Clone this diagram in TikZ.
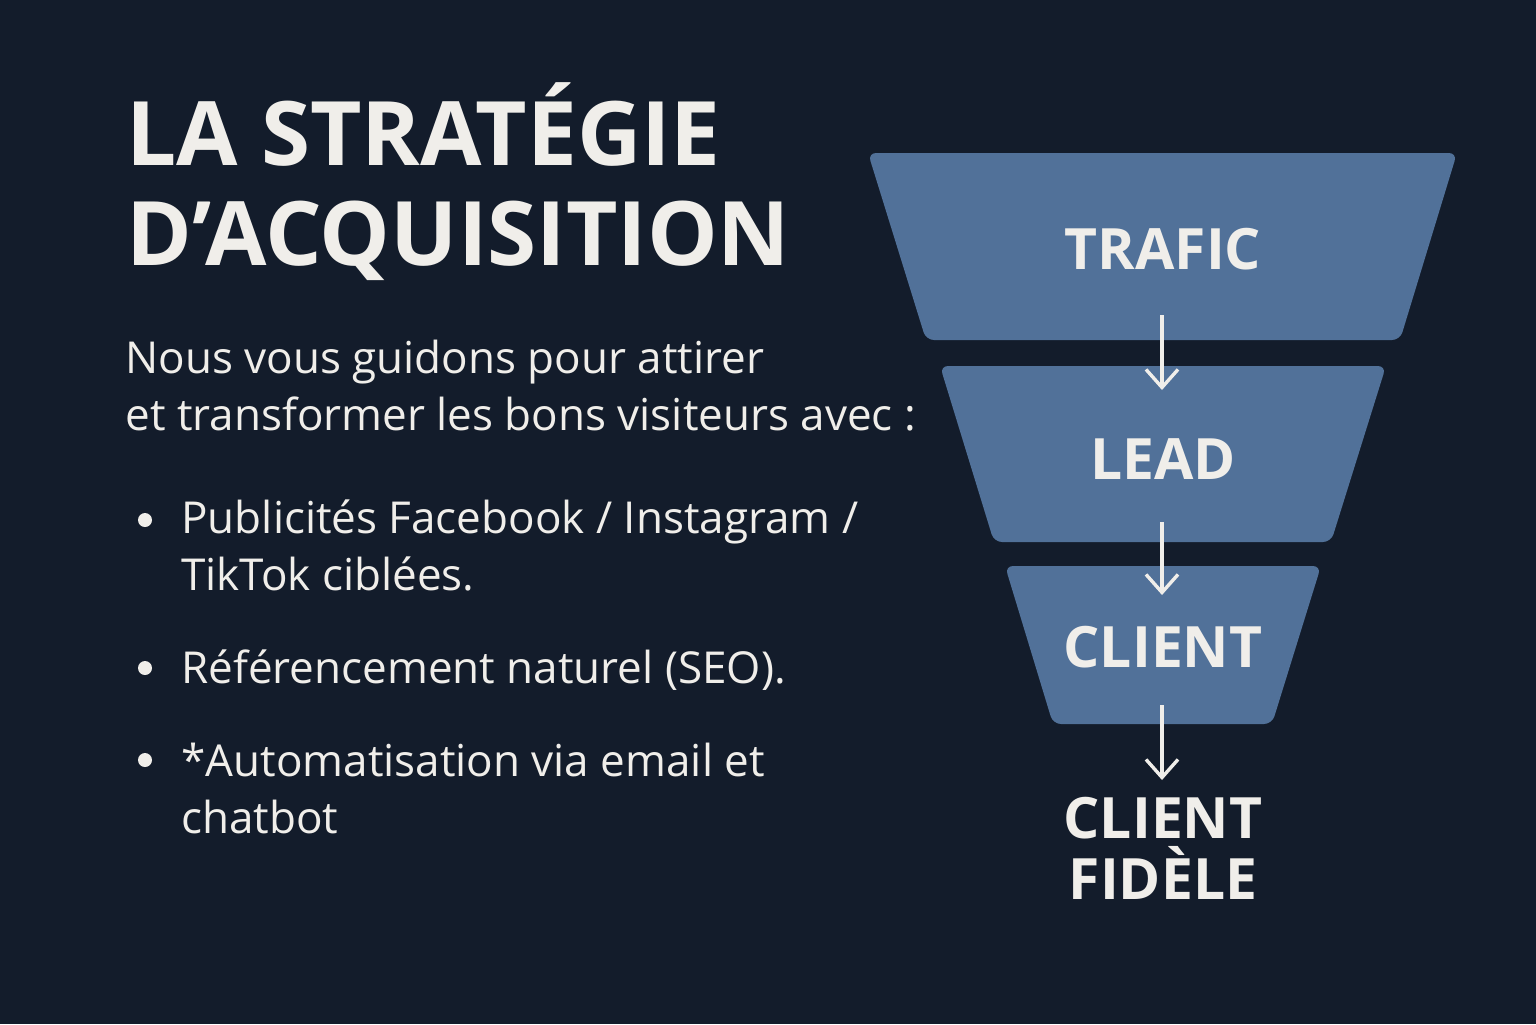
\documentclass[tikz,border=0pt]{standalone}
\usepackage{fontspec}
\setmainfont{Open Sans}
\usetikzlibrary{arrows.meta}
\definecolor{bgdark}{RGB}{19,28,43}
\definecolor{funnelblue}{RGB}{81,113,153}
\definecolor{chalk}{RGB}{240,238,234}
\tikzset{
  title/.style={anchor=base west,inner sep=0pt,text=chalk,font=\bfseries\fontsize{44.5}{50}\selectfont},
  body/.style={anchor=base west,inner sep=0pt,text=chalk,font=\fontsize{22}{28}\selectfont},
  stage/.style={inner sep=0pt,text=chalk,align=center,font=\bfseries\fontsize{28.5}{30.5}\selectfont},
  funnel/.style={fill=funnelblue,rounded corners=4pt},
  flow/.style={draw=chalk,line width=1.7pt,-{Straight Barb[length=9pt,width=16pt,line width=1.7pt]}},
  dot/.style={circle,fill=chalk,inner sep=0pt,minimum size=7pt}
}
\begin{document}
\begin{tikzpicture}[x=0.5pt,y=-0.5pt]
   \fill[bgdark] (0,0) rectangle (1536,1024);
   \useasboundingbox (0,0) rectangle (1536,1024);
    % funnel corners
    \coordinate (t1a) at (868,153);
    \coordinate (t1b) at (1457,153);
    \coordinate (t1c) at (1400,340);
    \coordinate (t1d) at (926,340);
    \coordinate (t2a) at (940,366);
    \coordinate (t2b) at (1386,366);
    \coordinate (t2c) at (1331,542);
    \coordinate (t2d) at (994,542);
    \coordinate (t3a) at (1005,566);
    \coordinate (t3b) at (1321,566);
    \coordinate (t3c) at (1272,724);
    \coordinate (t3d) at (1053,724);
    \fill[funnel] (t1a)--(t1b)--(t1c)--(t1d)--cycle;
    \fill[funnel] (t2a)--(t2b)--(t2c)--(t2d)--cycle;
    \fill[funnel] (t3a)--(t3b)--(t3c)--(t3d)--cycle;
    % stages
    \node[stage] (trafic) at (1163,249) {TRAFIC};
    \node[stage] (lead) at (1163,459) {LEAD};
    \node[stage] (client) at (1163,647) {CLIENT};
    \node[stage] (fidele) at (1163,848) {CLIENT\\FIDÈLE};
    \coordinate (s1) at (1162,315);
    \coordinate (e1) at (1162,390);
    \coordinate (s2) at (1162,522);
    \coordinate (e2) at (1162,595);
    \coordinate (s3) at (1162,705);
    \coordinate (e3) at (1162,780);
    \draw[flow] (s1)--(e1);
    \draw[flow] (s2)--(e2);
    \draw[flow] (s3)--(e3);
    % left text
    \node[title] (head1) at (126,165) {LA STRATÉGIE};
    \node[title] (head2) at (126,265) {D’ACQUISITION};
    \node[body] (intro1) at (125,373) {Nous vous guidons pour attirer};
    \node[body] (intro2) at (125,430) {et transformer les bons visiteurs avec :};
    \node[dot] (b1) at (145,520) {};
    \node[dot] (b2) at (145,668) {};
    \node[dot] (b3) at (145,760) {};
    \node[body] (item1a) at (181,533) {Publicités Facebook / Instagram /};
    \node[body] (item1b) at (181,590) {TikTok ciblées.};
    \node[body] (item2) at (181,683) {Référencement naturel (SEO).};
    \node[body] (item3a) at (181,776) {*Automatisation via email et};
    \node[body] (item3b) at (181,833) {chatbot};
		\end{tikzpicture}
\end{document}
